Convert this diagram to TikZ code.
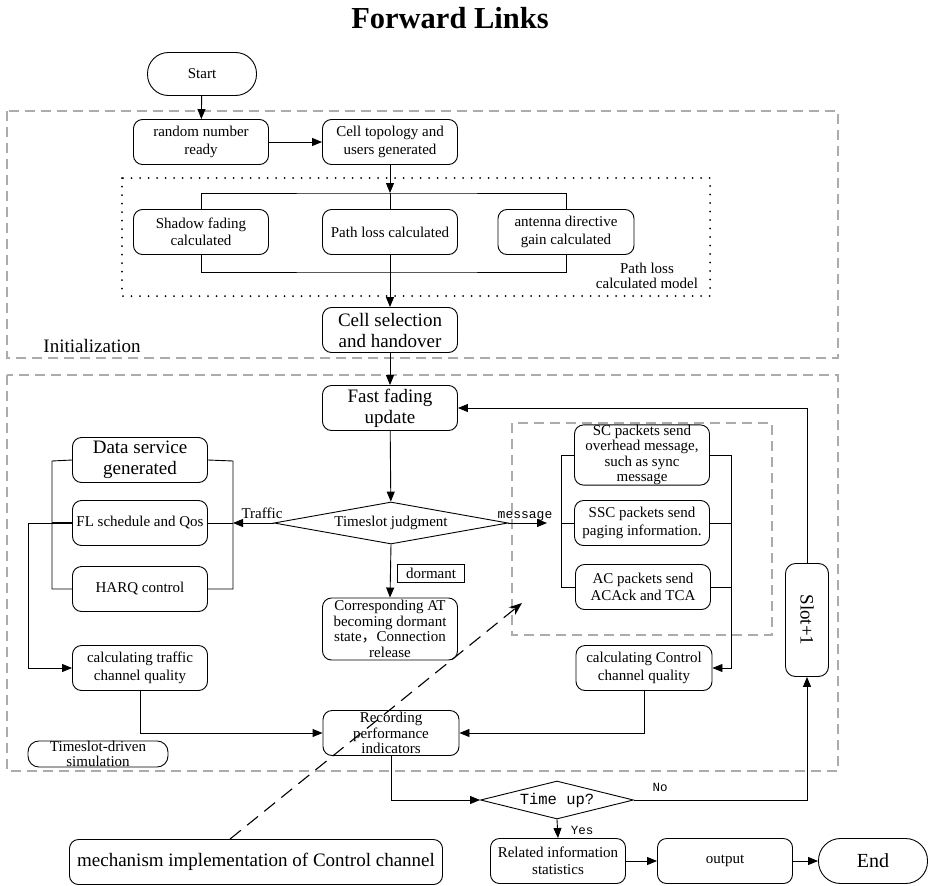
\documentclass[tikz,border=0pt]{standalone}
\usepackage{fontspec}
\setmainfont{Liberation Serif}
\newfontfamily\monofnt{Liberation Mono}
\newfontfamily\cjkfnt{Noto Sans CJK SC}
\usetikzlibrary{shapes.geometric,arrows.meta}
\newcommand\fsN{\fontsize{15}{17.5}\selectfont}
\newcommand\fsT{\fontsize{15}{15.5}\selectfont}
\newcommand\fsL{\fontsize{19}{21}\selectfont}
\tikzset{
 bx/.style={draw, rounded corners=9pt, align=center, inner sep=0pt, minimum width=135pt, minimum height=45pt, font=\fsN},
 big/.style={font=\fsL},
 arr/.style={-{Triangle[length=10pt,width=8pt]}},
 grpbox/.style={draw=gray!65, dash pattern=on 10pt off 6pt, line width=1.1pt},
 dotbox/.style={draw, line cap=round, dash pattern=on 0pt off 8.5pt, line width=2pt},
 dm/.style={draw, diamond, inner sep=0pt},
 monolab/.style={font=\monofnt\fontsize{12.5}{13}\selectfont},
}
\begin{document}
\begin{tikzpicture}[x=1pt,y=-1pt,line width=0.9pt]
\useasboundingbox (0,0) rectangle (929,886);
% title
\node[font=\bfseries\fontsize{30.5}{31}\selectfont] (title) at (450,18) {Forward Links};
% group frames
\draw[grpbox] (7,111) rectangle (838,358);
\draw[dotbox] (122,178) rectangle (710,296);
\draw[grpbox] (7,375) rectangle (838,771);
\draw[grpbox] (512,423) rectangle (772,635);
% nodes
\node[draw, rounded corners=21pt, minimum width=109pt, minimum height=43pt, font=\fsN] (start) at (202,74) {Start};
\node[bx] (rnd) at (201,142) {random number\\ready};
\node[bx] (topo) at (390,142) {Cell topology and\\users generated};
\node[bx] (shadow) at (201,232) {Shadow fading\\calculated};
\node[bx] (ploss) at (390,232) {Path loss calculated};
\node[bx, minimum width=136pt] (ant) at (566,232) {antenna directive\\gain calculated};
\node[font=\fsT, align=center] (plmodel) at (647,276) {Path loss\\calculated model};
\node[bx, big] (csel) at (390,330) {Cell selection\\and handover};
\node[font=\fsL] (init) at (92,346) {Initialization};

\node[bx, big] (fast) at (390,408) {Fast fading\\update};
\node[dm, shape aspect=5.6, minimum width=234pt, minimum height=42pt, font=\fsN] (tj) at (391,523) {Timeslot judgment};
\node[bx, big] (data) at (140,460) {Data service\\generated};
\node[bx] (fl) at (140,523) {FL schedule and Qos};
\node[bx] (harq) at (140,589) {HARQ control};
\node[bx] (ctraf) at (140,668) {calculating traffic\\channel quality};
\node[font=\fsN] (traffic) at (262,513) {Traffic};
\node[draw, font=\fsN, inner sep=0pt, minimum width=67pt, minimum height=18pt] (dorm) at (431,573) {dormant};
\node[bx, minimum height=62pt, font=\fsT] (corr) at (390,629) {Corresponding AT\\becoming dormant\\state{\cjkfnt ，}Connection\\release};
\node[bx, minimum width=136pt, font=\fsT] (rec) at (391,733) {Recording\\performance\\indicators};
\node[bx, minimum width=140pt, minimum height=24pt, rounded corners=11pt, font=\fsT] (tds) at (98,754) {Timeslot-driven\\simulation};

\node[bx, minimum height=56pt, font=\fsT] (sc) at (642,455) {SC packets send\\overhead message,\\such as sync\\message};
\node[bx] (ssc) at (642,523) {SSC packets send\\paging information.};
\node[bx] (ac) at (643,587) {AC packets send\\ACAck and TCA};
\node[bx, minimum width=136pt] (cctrl) at (644,668) {calculating Control\\channel quality};
\node[font=\monofnt\fontsize{13}{13}\selectfont] (msg) at (525,516) {message};
\node[draw, rounded corners=10pt, minimum width=43pt, minimum height=113pt, inner sep=0pt, font=\fsL] (slot) at (807,620) {\rotatebox{-90}{Slot+1}};

\node[dm, shape aspect=4, minimum width=153pt, minimum height=38pt, font=\monofnt\fontsize{15.5}{16}\selectfont] (tu) at (557,800) {Time up?};
\node[monolab] (no) at (660,787) {No};
\node[monolab] (yes) at (582,830) {Yes};
\node[bx] (rel) at (558,861) {Related information\\statistics};
\node[bx] (out) at (725,861) {output};
\node[draw, rounded corners=22pt, minimum width=109pt, minimum height=45pt, font=\fontsize{20}{22}\selectfont] (endn) at (873,861) {End};
\node[bx, minimum width=373pt, font=\fsL] (mech) at (256,862) {mechanism implementation of Control channel};

% coordinates
\coordinate (bt) at (390,193);
\coordinate (bb) at (390,272);
\coordinate (tl1) at (52,461); \coordinate (tl3) at (52,589);
\coordinate (tr1) at (233,461); \coordinate (tr3) at (233,589);
\coordinate (tr2) at (233,523); \coordinate (tl2) at (52,523);
\coordinate (tout) at (28,523);
\coordinate (ml1) at (561,455); \coordinate (ml2) at (561,523); \coordinate (ml3) at (561,587);
\coordinate (mr1) at (731,455); \coordinate (mr2) at (731,523); \coordinate (mr3) at (731,587);
\coordinate (mr4) at (731,668);
\coordinate (mtip) at (547,523);
\coordinate (dz) at (522,603);

% connectors
\draw[arr] (start) -- (rnd);
\draw[arr] (rnd) -- (topo);
\draw[arr] (topo) -- (bt);
\draw (shadow.north) |- (bt) -| (ant.north);
\draw (bt) -- (ploss.north);
\draw (shadow.south) |- (bb) -| (ant.south);
\draw (ploss.south) -- (bb);
\draw[arr] (bb) -- (csel);
\draw[arr] (csel) -- (fast);
\draw[arr] (fast) -- (tj);
\draw[arr] (tj.south) -- (corr.north);
% traffic branch
\draw[arr] (tj.west) -- (tr2);
\draw (data.west) -- (tl1) -- (tl3) -- (harq.west);
\draw (data.east) -- (tr1) -- (tr3) -- (harq.east);
\draw (fl.east) -- (tr2);
\draw[line width=1.6pt] (fl.west) -- (tl2);
\draw[arr] (tl2) -- (tout) |- (ctraf.west);
\draw[arr] (ctraf.south) |- (rec.west);
% message branch
\draw[arr] (tj.east) -- (mtip);
\draw (sc.west) -- (ml1) -- (ml3) -- (ac.west);
\draw (ssc.west) -- (ml2);
\draw (sc.east) -- (mr1);
\draw (ssc.east) -- (mr2);
\draw (ac.east) -- (mr3);
\draw[arr] (mr1) -- (mr4) -- (cctrl.east);
\draw[arr] (cctrl.south) |- (rec.east);
% loop
\draw[arr] (rec.south) |- (tu.west);
\draw[arr] (tu.east) -| (slot.south);
\draw[arr] (slot.north) |- (fast.east);
\draw[arr] (tu.south) -- (rel.north);
\draw[arr] (rel) -- (out);
\draw[arr] (out) -- (endn);
% dashed pointer
\draw[dash pattern=on 14pt off 8pt, line width=1.1pt, -{Stealth[length=13pt,width=10pt]}] ([xshift=-26pt]mech.north) -- (dz);
\end{tikzpicture}
\end{document}
